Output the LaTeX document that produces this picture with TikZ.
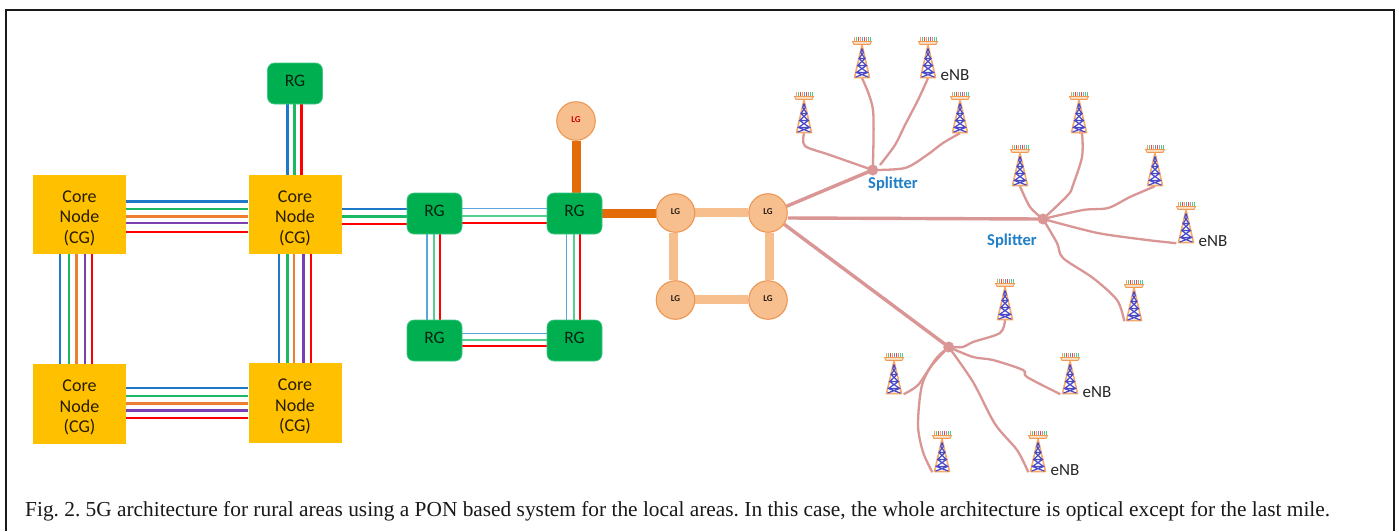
\documentclass[tikz,border=0pt]{standalone}
\usepackage{fontspec}
\usetikzlibrary{backgrounds}
\setmainfont{Carlito}
\newfontfamily\capfont{Liberation Serif}
\definecolor{coreY}{HTML}{FFC000}
\definecolor{rgG}{HTML}{00B050}
\definecolor{rgEdge}{HTML}{40C888}
\definecolor{lgFill}{HTML}{F8BF8E}
\definecolor{lgEdge}{HTML}{EE9550}
\definecolor{lgDark}{HTML}{E36C09}
\definecolor{feedC}{HTML}{D99694}
\definecolor{wB}{HTML}{1F78C8}
\definecolor{wG}{HTML}{1CB866}
\definecolor{wO}{HTML}{ED7D31}
\definecolor{wP}{HTML}{7A3FB0}
\definecolor{wR}{HTML}{FF0000}
\definecolor{tB}{HTML}{5AA5DC}
\definecolor{tG}{HTML}{55CF90}
\definecolor{splitB}{HTML}{1F7FC8}
\definecolor{towB}{HTML}{4A4AC8}
\definecolor{towO}{HTML}{F29A50}
\newcommand{\coretext}{\rule{0pt}{19pt}Core\\Node\\(CG)}
\tikzset{
  core/.style={fill=coreY,minimum width=93,minimum height=79.5,inner sep=0,align=center,
    font=\fontsize{18}{20.5}\selectfont,text=black!85!coreY},
  rgbox/.style={fill=rgG,draw=rgEdge,line width=.7,rounded corners=7,minimum width=55,minimum height=41,inner sep=0,
    font=\fontsize{17.5}{20}\selectfont,text=black!80!rgG,text depth=6pt},
  lgnode/.style={circle,fill=lgFill,draw=lgEdge,line width=1.1,minimum size=38.5,inner sep=0,
    font=\bfseries\fontsize{9}{10}\selectfont,text=black!85!lgFill,text depth=2pt},
  tower/.style={minimum width=19,minimum height=41,inner sep=0},
  splitdot/.style={circle,fill=feedC,minimum size=11,inner sep=0},
  wA/.style={line width=2.8},
  wT/.style={line width=1.4},
  ringA/.style={lgDark,line width=9},
  ringB/.style={lgFill,line width=9},
  mainfeed/.style={feedC,line width=3.4},
  feed/.style={feedC,line width=2.3},
  lab/.style={font=\fontsize{17}{19}\selectfont,text=black!85,inner sep=0},
  splab/.style={font=\bfseries\fontsize{16.5}{18}\selectfont,text=splitB,inner sep=0}
}
\newcommand{\towerart}[1]{%
  \begin{scope}[shift={(#1.center)}]
    \foreach \sx/\sc in {-8/wO,-6/wG,-4/wR,-2/wO,0/wB,2/wR,4/gray,6/wG,8/wG}
      \draw[\sc!75,line width=.8] (\sx,-20.5) -- (\sx,-16);
    \draw[towO,fill=lgFill!50,line width=.9] (-9.5,-16) -- (9.5,-16) -- (8,-13.2) -- (-8,-13.2) -- cycle;
    \draw[towO!85,line width=1.6,line join=round] (0,-12.5) -- (-7.5,20) -- (7.5,20) -- cycle;
    \draw[towB,line width=1.2] (-1.3,-5) -- (3,1) -- (-4.4,8) -- (5.6,15) -- (-6.5,19.6)
       (1.3,-5) -- (-3,1) -- (4.4,8) -- (-5.6,15) -- (6.5,19.6)
       (0,-9) -- (-1.3,-5) (0,-9) -- (1.3,-5)
       (-3,1) -- (3,1) (-4.4,8) -- (4.4,8) (-5.6,15) -- (5.6,15);
  \end{scope}}
\begin{document}
\begin{tikzpicture}[x=1pt,y=-1pt]
\useasboundingbox (0,0) rectangle (1399,531);
% frame
\coordinate (fa) at (5.5,531);\coordinate (fb) at (5.5,9.5);\coordinate (fc) at (1393.5,9.5);\coordinate (fd) at (1393.5,531);
\draw[black!90,line width=2] (fa) -- (fb) -- (fc) -- (fd);
% core nodes
\node[core] (A) at (79.5,214.5) {\coretext};
\node[core] (B) at (295,214.5) {\coretext};
\node[core] (C) at (79.5,404) {\coretext};
\node[core] (D) at (295,403) {\coretext};
% RG
\node[rgbox] (R0) at (295,83.5) {RG};
\node[rgbox] (R1) at (434.5,213.5) {RG};
\node[rgbox] (R2) at (574.5,213.5) {RG};
\node[rgbox] (R3) at (434.5,340.5) {RG};
\node[rgbox] (R4) at (574.5,340.5) {RG};
% LG
\node[lgnode,text=red!80!black] (L0) at (576,121) {LG};
\node[lgnode] (L1) at (675.5,213) {LG};
\node[lgnode] (L2) at (768,213) {LG};
\node[lgnode] (L3) at (675.5,300) {LG};
\node[lgnode] (L4) at (768,300) {LG};
% towers
\foreach \n/\x/\y in {T1/862/57.5,T2/928/57.5,T3/804/112.5,T4/960/112.5,
  T5/1020/165.5,T6/1079/112.5,T7/1155/165.5,T8/1186/222.5,T9/1134/300.5,
  T10/1005/299.5,T11/894/373.5,T12/1070/373.5,T13/942/451.5,T14/1038/451.5}
  \node[tower] (\n) at (\x,\y) {};
% splitters
\node[splitdot] (S1) at (872.7,170) {};
\node[splitdot] (S2) at (1043,219) {};
\node[splitdot] (S3) at (948.7,347) {};
\begin{pgfonlayer}{background}
\fill[white] (0,0) rectangle (1399,531);
% core links
\foreach \c/\o in {wB/-12.8,wG/-5.5,wO/1.8,wP/8.5,wR/17.5}
  \draw[\c,wA] ([shift={(0,\o)}]A.east) -- ([shift={(0,\o)}]B.west);
\foreach \c/\o in {wB/-19.5,wG/-10.5,wO/-2.8,wP/5.5,wR/12.5}
  \draw[\c,wA] ([shift={(\o,0)}]A.south) -- ([shift={(\o,0)}]C.north);
\foreach \c/\o in {wB/-16,wG/-7.5,wO/-1,wP/8.5,wR/16}
  \draw[\c,wA] ([shift={(\o,0)}]B.south) -- ([shift={(\o,0)}]D.north);
\foreach \c/\o/\p in {wB/-16/-15,wG/-8/-7,wO/-0.5/0.5,wP/6.5/7.5,wR/14/15}
  \draw[\c,wA] ([shift={(0,\o)}]C.east) -- ([shift={(0,\p)}]D.west);
\foreach \c/\o in {wB/-7.5,wG/-0.5,wR/6.5}
  \draw[\c,wA] ([shift={(\o,0)}]R0.south) -- ([shift={(\o,0)}]B.north);
\foreach \c/\o/\p in {wB/-5.5/-4.5,wG/2/3,wR/9.5/10.5}
  \draw[\c,wA] ([shift={(0,\o)}]B.east) -- ([shift={(0,\p)}]R1.west);
% RG ring
\foreach \c/\o in {tB/-4.8,tG/2.5,wR/9.5}
  \draw[\c,wT] ([shift={(0,\o)}]R1.east) -- ([shift={(0,\o)}]R2.west);
\foreach \c/\o in {tB/-7.5,tG/-0.5,wR/5.5}
  \draw[\c,wT] ([shift={(\o,0)}]R1.south) -- ([shift={(\o,0)}]R3.north);
\foreach \c/\o in {tB/-7.8,tG/-0.5,wR/5.5}
  \draw[\c,wT] ([shift={(\o,0)}]R2.south) -- ([shift={(\o,0)}]R4.north);
\foreach \c/\o in {tB/-6.8,tG/-0.5,wR/5.5}
  \draw[\c,wT] ([shift={(0,\o)}]R3.east) -- ([shift={(0,\o)}]R4.west);
% LG links
\draw[ringA] (R2.north -| L0.south) -- (L0.south);
\draw[ringA] (R2.east |- L1.west) -- (L1.west);
\draw[ringB] ([shift={(0,-1)}]L1.east) -- ([shift={(0,-1)}]L2.west);
\draw[ringB] ([shift={(-2.5,0)}]L1.south) -- ([shift={(-2.5,0)}]L3.north);
\draw[ringB] ([shift={(1.5,0)}]L2.south) -- ([shift={(1.5,0)}]L4.north);
\draw[ringB] ([shift={(0,-1)}]L3.east) -- ([shift={(0,-1)}]L4.west);
% feeders
\draw[mainfeed] (L2.20) -- (S1.center);
\draw[mainfeed] ([shift={(0,5)}]L2.east) -- (S2.center);
\draw[mainfeed] (L2.-35) -- (S3.center);
\draw[feed] plot[smooth,tension=.5] coordinates {(T1.south) (873,110) (872.7,170)};
\draw[feed] plot[smooth,tension=.5] coordinates {(T2.south) (918,100) (905,125) (895,145) (880,165)};
\draw[feed] plot[smooth,tension=.5] coordinates {(T3.south) (805,146) (830,155) (S1.center)};
\draw[feed] plot[smooth,tension=.5] coordinates {(T4.south) (943,143) (927,155) (905,168) (S1.center)};
\draw[feed] plot[smooth,tension=.5] coordinates {(T5.south) (1030,207) (S2.center)};
\draw[feed] plot[smooth,tension=.5] coordinates {(T6.south) ([xshift=3]T6.south) (1082,157) (1073,185) (1068,195) (S2.center)};
\draw[feed] plot[smooth,tension=.5] coordinates {(T7.south) (1130,197) (1108,208) (1083,210) (S2.center)};
\draw[feed] plot[smooth,tension=.5] coordinates {(T8.south west) (1147,240) (1103,234) (1077,228) (S2.center)};
\draw[feed] plot[smooth,tension=.5] coordinates {(T9.south west) (1117,300) (1093,278) (1063,258) (1057,243) (S2.center)};
\draw[feed] plot[smooth,tension=.5] coordinates {(T10.south) (1000,333) (973,342) (963,347) (S3.center)};
\draw[feed] plot[smooth,tension=.5] coordinates {(T11.south east) (918,385) (932,365) (S3.center)};
\draw[feed] plot[smooth,tension=.5] coordinates {(T12.south west) (1027,377) (1023,370) (993,360) (973,357) (S3.center)};
\draw[feed] plot[smooth,tension=.5] coordinates {(T13.south west) (923,452) (918,425) (922,385) (935,360) (S3.center)};
\draw[feed] plot[smooth,tension=.5] coordinates {(T14.south west) (1017,450) (995,424) (973,382) (S3.center)};
\end{pgfonlayer}
\foreach \n in {T1,T2,T3,T4,T5,T6,T7,T8,T9,T10,T11,T12,T13,T14} {\towerart{\n}}
% labels
\node[lab] (e1) at (955,75) {eNB};
\node[lab] (e2) at (1213,241) {eNB};
\node[lab] (e3) at (1097,392) {eNB};
\node[lab] (e4) at (1065,470) {eNB};
\node[splab] (sl1) at (893,184) {Splitter};
\node[splab] (sl2) at (1012,241) {Splitter};
\node[anchor=base west,inner sep=0,font=\capfont\fontsize{21.35}{24}\selectfont\frenchspacing,text=black!90] (cap) at (25,516)
 {Fig. 2. 5G architecture for rural areas using a PON based system for the local areas. In this case, the whole architecture is optical except for the last mile.};
\end{tikzpicture}
\end{document}
